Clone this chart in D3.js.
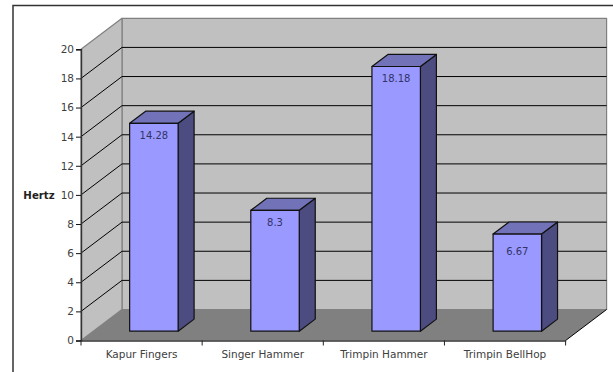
<!DOCTYPE html>
<html>
<head>
<meta charset="utf-8">
<script src="https://cdnjs.cloudflare.com/ajax/libs/d3/7.8.5/d3.min.js"></script>
<style>
  html, body { margin: 0; padding: 0; background: #fff; }
  svg { display: block; }
  text { font-family: "DejaVu Sans", Verdana, sans-serif; fill: #404040; }
</style>
</head>
<body>
<svg id="chart" width="613" height="372"></svg>
<script>
const categories = ["Kapur Fingers", "Singer Hammer", "Trimpin Hammer", "Trimpin BellHop"];
const hertz = [14.28, 8.3, 18.18, 6.67];
const yTicks = [0, 2, 4, 6, 8, 10, 12, 14, 16, 18, 20];
const axisTitle = "Hertz";

const colors = { wall: "#c0c0c0", wallEdge: "#808080", floor: "#808080",
                 front: "#9999ff", top: "#7272b8", side: "#4c4c80" };

// Oblique projection: a full unit of depth shifts a point right and up.
const depthX = 41, depthY = 31;
const barDepthStart = 0.3, barDepthEnd = 0.69;

const x = d3.scaleBand().domain(categories).range([81, 565.6]).paddingInner(0.6).paddingOuter(0.3);
const band = d3.scaleBand().domain(categories).range([81, 565.6]);
const y = d3.scaleLinear().domain([0, 20]).range([340.5, 49.3]);

// Project chart coordinates (pixel x, value, depth 0..1) on to the page.
const px = (sx, d) => sx + d * depthX;
const py = (v, d) => y(v) - d * depthY;
const pt = (sx, v, d) => [px(sx, d), py(v, d)];

const svg = d3.select("#chart");
const poly = (points, fill, stroke, width) => svg.append("polygon")
  .attr("points", points.map(p => p.join(",")).join(" "))
  .attr("fill", fill)
  .attr("stroke", stroke || "none")
  .attr("stroke-width", width || 0)
  .attr("stroke-linejoin", "round");

// Outer chart frame: open on the right and at the bottom of the page.
svg.append("path")
  .attr("d", "M13,372V5.5H613")
  .attr("fill", "none").attr("stroke", "#333").attr("stroke-width", 1.5);

const [x0, x1] = band.range();
const yMax = y.domain()[1];

// Back wall, side wall and floor.
poly([pt(x0, 0, 1), pt(x1, 0, 1), pt(x1, yMax, 1), pt(x0, yMax, 1)], colors.wall, colors.wallEdge, 1.2);
poly([pt(x0, 0, 0), pt(x0, 0, 1), pt(x0, yMax, 1), pt(x0, yMax, 0)], colors.wall, colors.wallEdge, 1.2);
poly([pt(x0, 0, 0), pt(x1, 0, 0), pt(x1, 0, 1), pt(x0, 0, 1)], colors.floor);

// Gridlines run along the side wall and across the back wall.
const grid = svg.append("g").attr("fill", "none").attr("stroke", "#000").attr("stroke-width", 1);
yTicks.filter(t => t > 0 && t < yMax).forEach(t => {
  grid.append("polyline").attr("points", [pt(x0, t, 0), pt(x0, t, 1), pt(x1, t, 1)].map(p => p.join(",")).join(" "));
});
// Floor edge on the right-hand side.
svg.append("line")
  .attr("x1", px(x1, 0)).attr("y1", py(0, 0)).attr("x2", px(x1, 1)).attr("y2", py(0, 1))
  .attr("stroke", "#000").attr("stroke-width", 1);

// Bars: side and top faces first, then the front face.
categories.forEach((c, i) => {
  const v = hertz[i], l = x(c), r = l + x.bandwidth();
  const a = barDepthStart, b = barDepthEnd;
  poly([pt(r, 0, a), pt(r, 0, b), pt(r, v, b), pt(r, v, a)], colors.side, "#111", 1.2);
  poly([pt(l, v, a), pt(r, v, a), pt(r, v, b), pt(l, v, b)], colors.top, "#111", 1.2);
  poly([pt(l, 0, a), pt(r, 0, a), pt(r, v, a), pt(l, v, a)], colors.front, "#111", 1.2);
});

// Value labels sit just under each bar's top edge; the shortest bar carries its label lower.
const labelDrop = v => v < 8 ? 17 : 12;
categories.forEach((c, i) => {
  const v = hertz[i];
  svg.append("text")
    .attr("x", px(x(c) + x.bandwidth() / 2, barDepthStart))
    .attr("y", py(v, barDepthStart) + labelDrop(v))
    .attr("dy", "0.35em")
    .attr("text-anchor", "middle")
    .attr("font-size", 10)
    .style("fill", "#333366")
    .text(v);
});

// Value axis.
const yAxis = svg.append("g").attr("transform", `translate(${x0},0)`)
  .call(d3.axisLeft(y).tickValues(yTicks).tickSize(5).tickPadding(2).tickFormat(d3.format("d")));
yAxis.selectAll("text").attr("font-size", 10.5);

// Category axis with ticks at the band boundaries.
const xAxis = svg.append("g").attr("transform", `translate(0,${y(0)})`)
  .call(d3.axisBottom(band).tickSize(0).tickPadding(10));
xAxis.selectAll("text").attr("font-size", 10.5);
const bounds = [...categories.map(c => band(c)), x1];
xAxis.selectAll("line.edge").data(bounds).enter().append("line")
  .attr("class", "edge")
  .attr("x1", d => d).attr("x2", d => d)
  .attr("y1", 0).attr("y2", 5)
  .attr("stroke", "#222");

svg.selectAll(".domain").attr("stroke", "#333").attr("stroke-width", 1.4);
yAxis.selectAll(".tick line").attr("stroke", "#111");

svg.append("text")
  .attr("x", 39).attr("y", y(10) + 1)
  .attr("dy", "0.35em")
  .attr("text-anchor", "middle")
  .attr("font-size", 10.2)
  .attr("font-weight", "bold")
  .style("fill", "#222")
  .text(axisTitle);
</script>
</body>
</html>
